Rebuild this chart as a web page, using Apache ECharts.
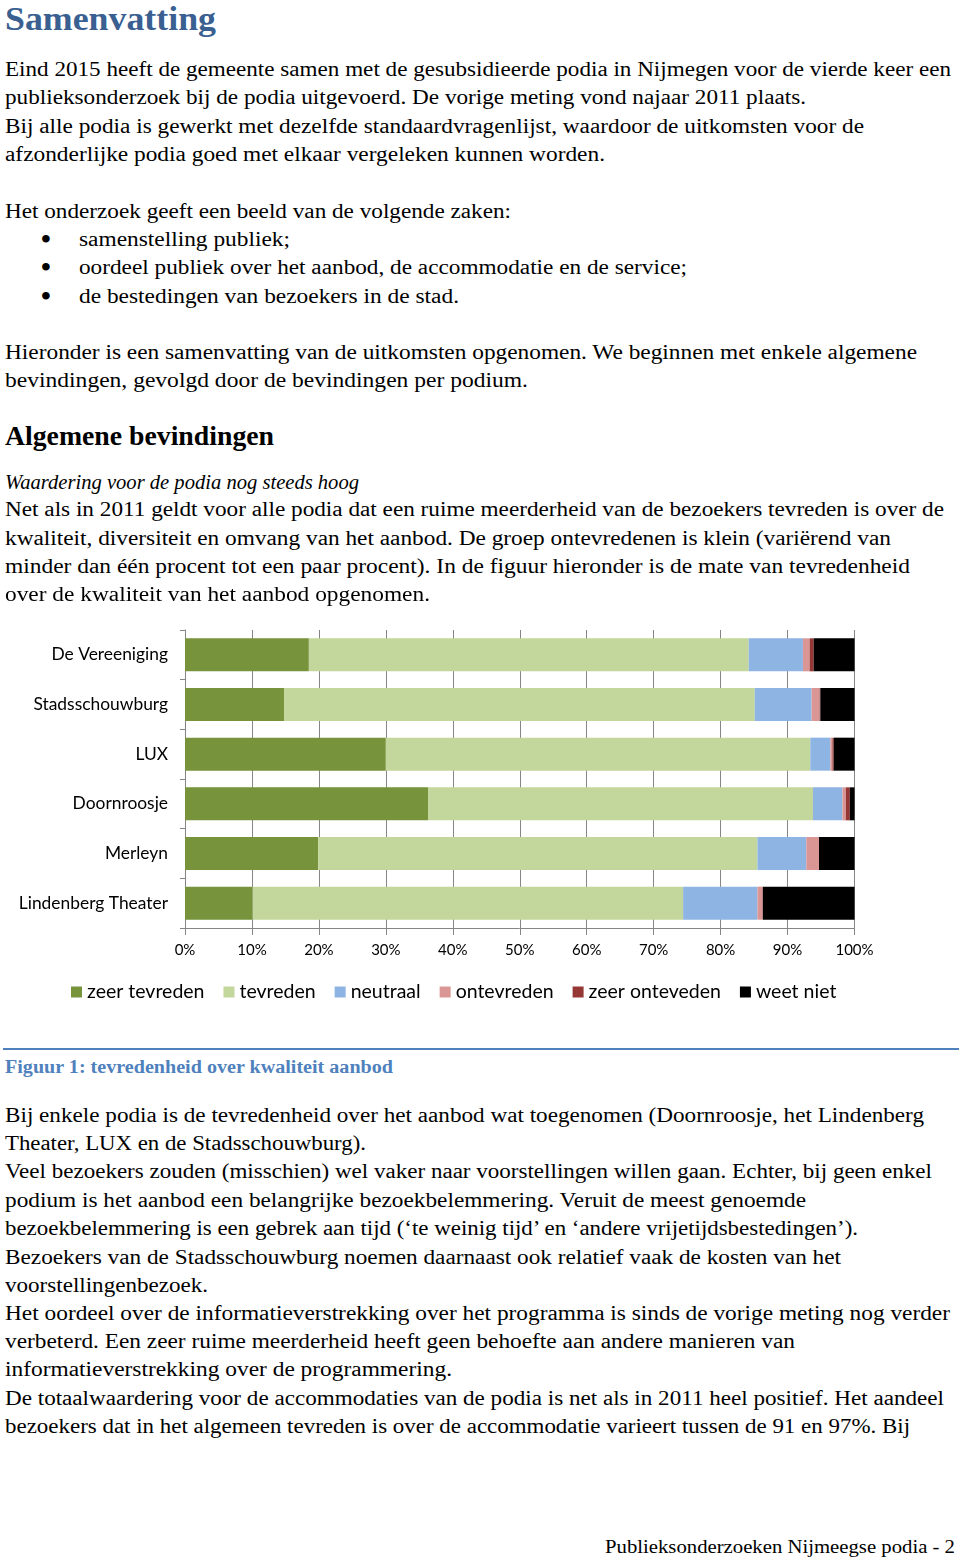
<!DOCTYPE html>
<html>
<head>
<meta charset="utf-8">
<script src="https://cdn.jsdelivr.net/npm/echarts@6/dist/echarts.min.js"></script>
<style>
  html, body { margin:0; padding:0; background:#fff; }
  #page { position:relative; width:960px; height:1560px; overflow:hidden; background:#fff; }
  .ln { position:absolute; white-space:nowrap; line-height:1; font-family:"Liberation Serif", serif; color:#000; transform-origin:0 0; }
  #chart { position:absolute; left:0; top:600px; width:960px; height:420px; }
  #rule { position:absolute; left:3px; top:1048px; width:956px; height:2px; background:#4F81BD; }
</style>
</head>
<body>
<div id="page">
  <div id="chart"></div>
  <div id="rule"></div>
</div>
<script>
// ---- chart data ----
var categories = ['De Vereeniging', 'Stadsschouwburg', 'LUX', 'Doornroosje', 'Merleyn', 'Lindenberg Theater'];
var seriesNames = ['zeer tevreden', 'tevreden', 'neutraal', 'ontevreden', 'zeer onteveden', 'weet niet'];
var zeerTevreden   = [18.5, 14.8, 30.0, 36.3, 19.9, 10.1];
var tevreden       = [65.7, 70.3, 63.4, 57.5, 65.6, 64.3];
var neutraal       = [8.1, 8.5, 3.0, 4.4, 7.3, 11.1];
var ontevreden     = [1.0, 1.2, 0.3, 0.5, 1.9, 0.8];
var zeerOntevreden = [0.6, 0.1, 0.2, 0.6, 0.0, 0.0];
var weetNiet       = [6.1, 5.1, 3.1, 0.7, 5.3, 13.7];
var xTickValues    = [0, 10, 20, 30, 40, 50, 60, 70, 80, 90, 100];

// ---- page text (style key, left, baseline, target width, text) ----
var textLines = [
  ['h1', 5, 31, 211, 'Samenvatting'],
  ['p', 5, 76, 946, 'Eind 2015 heeft de gemeente samen met de gesubsidieerde podia in Nijmegen voor de vierde keer een'],
  ['p', 5, 104, 801, 'publieksonderzoek bij de podia uitgevoerd. De vorige meting vond najaar 2011 plaats.'],
  ['p', 5, 133, 859, 'Bij alle podia is gewerkt met dezelfde standaardvragenlijst, waardoor de uitkomsten voor de'],
  ['p', 5, 161, 600, 'afzonderlijke podia goed met elkaar vergeleken kunnen worden.'],
  ['p', 5, 218, 506, 'Het onderzoek geeft een beeld van de volgende zaken:'],
  ['b', 41, 248, 0, '\u2022'],
  ['p', 79, 246, 211, 'samenstelling publiek;'],
  ['b', 41, 276, 0, '\u2022'],
  ['p', 79, 274, 608, 'oordeel publiek over het aanbod, de accommodatie en de service;'],
  ['b', 41, 305, 0, '\u2022'],
  ['p', 79, 303, 380, 'de bestedingen van bezoekers in de stad.'],
  ['p', 5, 359, 912, 'Hieronder is een samenvatting van de uitkomsten opgenomen. We beginnen met enkele algemene'],
  ['p', 5, 387, 523, 'bevindingen, gevolgd door de bevindingen per podium.'],
  ['h2', 5, 446, 269, 'Algemene bevindingen'],
  ['it', 5, 489, 354, 'Waardering voor de podia nog steeds hoog'],
  ['p', 5, 516, 939, 'Net als in 2011 geldt voor alle podia dat een ruime meerderheid van de bezoekers tevreden is over de'],
  ['p', 5, 545, 886, 'kwaliteit, diversiteit en omvang van het aanbod. De groep ontevredenen is klein (variërend van'],
  ['p', 5, 573, 905, 'minder dan één procent tot een paar procent). In de figuur hieronder is de mate van tevredenheid'],
  ['p', 5, 601, 425, 'over de kwaliteit van het aanbod opgenomen.'],
  ['cap', 5, 1073, 388, 'Figuur 1: tevredenheid over kwaliteit aanbod'],
  ['p', 5, 1122, 919, 'Bij enkele podia is de tevredenheid over het aanbod wat toegenomen (Doornroosje, het Lindenberg'],
  ['p', 5, 1150, 361, 'Theater, LUX en de Stadsschouwburg).'],
  ['p', 5, 1178, 927, 'Veel bezoekers zouden (misschien) wel vaker naar voorstellingen willen gaan. Echter, bij geen enkel'],
  ['p', 5, 1207, 801, 'podium is het aanbod een belangrijke bezoekbelemmering. Veruit de meest genoemde'],
  ['p', 5, 1235, 853, 'bezoekbelemmering is een gebrek aan tijd (\u2018te weinig tijd\u2019 en \u2018andere vrijetijdsbestedingen\u2019).'],
  ['p', 5, 1264, 836, 'Bezoekers van de Stadsschouwburg noemen daarnaast ook relatief vaak de kosten van het'],
  ['p', 5, 1292, 203, 'voorstellingenbezoek.'],
  ['p', 5, 1320, 945, 'Het oordeel over de informatieverstrekking over het programma is sinds de vorige meting nog verder'],
  ['p', 5, 1348, 790, 'verbeterd. Een zeer ruime meerderheid heeft geen behoefte aan andere manieren van'],
  ['p', 5, 1376, 447, 'informatieverstrekking over de programmering.'],
  ['p', 5, 1405, 939, 'De totaalwaardering voor de accommodaties van de podia is net als in 2011 heel positief. Het aandeel'],
  ['p', 5, 1433, 905, 'bezoekers dat in het algemeen tevreden is over de accommodatie varieert tussen de 91 en 97%. Bij'],
  ['foot', 605, 1553, 350, 'Publieksonderzoeken Nijmeegse podia - 2']
];
var textStyles = {
  h1:   { size: 33, weight: 'bold', style: 'normal', color: '#3A5F91' },
  p:    { size: 20, weight: 'normal', style: 'normal', color: '#000' },
  b:    { size: 28, weight: 'bold', style: 'normal', color: '#000' },
  h2:   { size: 27, weight: 'bold', style: 'normal', color: '#000' },
  it:   { size: 20, weight: 'normal', style: 'italic', color: '#000' },
  cap:  { size: 18, weight: 'bold', style: 'normal', color: '#4F81BD' },
  foot: { size: 19, weight: 'normal', style: 'normal', color: '#000' }
};

var page = document.getElementById('page');
textLines.forEach(function (l) {
  var st = textStyles[l[0]];
  var d = document.createElement('div');
  d.className = 'ln';
  d.textContent = l[4];
  d.style.fontSize = st.size + 'px';
  d.style.fontWeight = st.weight;
  d.style.fontStyle = st.style;
  d.style.color = st.color;
  d.style.left = l[1] + 'px';
  d.style.top = (l[2] - 0.8375 * st.size) + 'px';
  page.appendChild(d);
  if (l[3] > 0) {
    var w = d.getBoundingClientRect().width;
    if (w > 0) d.style.transform = 'scaleX(' + (l[3] / w) + ')';
  }
});

// ---- chart ----
var colors = ['#77933C', '#C3D69B', '#8EB4E3', '#D99694', '#953735', '#000000'];
var values = [zeerTevreden, tevreden, neutraal, ontevreden, zeerOntevreden, weetNiet];
var chart = echarts.init(document.getElementById('chart'), null, { renderer: 'canvas' });
var axisGray = '#868686';
chart.setOption({
  animation: false,
  textStyle: { fontFamily: 'Lato' },
  grid: { left: 185, top: 30, width: 669.5, height: 298, containLabel: false },
  xAxis: {
    type: 'value', min: xTickValues[0], max: xTickValues[xTickValues.length - 1], interval: 10,
    axisLabel: { formatter: '{value}%', fontSize: 15, color: '#000', margin: 15, fontFamily: 'Lato' },
    axisLine: { show: true, lineStyle: { color: axisGray, width: 1 } },
    axisTick: { show: true, length: 7, lineStyle: { color: axisGray } },
    splitLine: { show: true, lineStyle: { color: axisGray, width: 1 } }
  },
  yAxis: {
    type: 'category', inverse: true, data: categories,
    axisLine: { show: true, lineStyle: { color: axisGray, width: 1 } },
    axisTick: { show: true, length: 5, lineStyle: { color: axisGray } },
    axisLabel: { fontSize: 17.4, color: '#000', margin: 17, fontFamily: 'Lato' },
    splitLine: { show: false }
  },
  legend: {
    left: 66, top: 377, itemWidth: 11, itemHeight: 11, itemGap: 19, icon: 'rect',
    textStyle: { fontSize: 19.5, color: '#000', fontFamily: 'Lato' },
    data: seriesNames
  },
  series: seriesNames.map(function (n, i) {
    return {
      name: n, type: 'bar', stack: 'total', barWidth: 33,
      itemStyle: { color: colors[i] },
      data: values[i]
    };
  })
});
</script>
</body>
</html>
